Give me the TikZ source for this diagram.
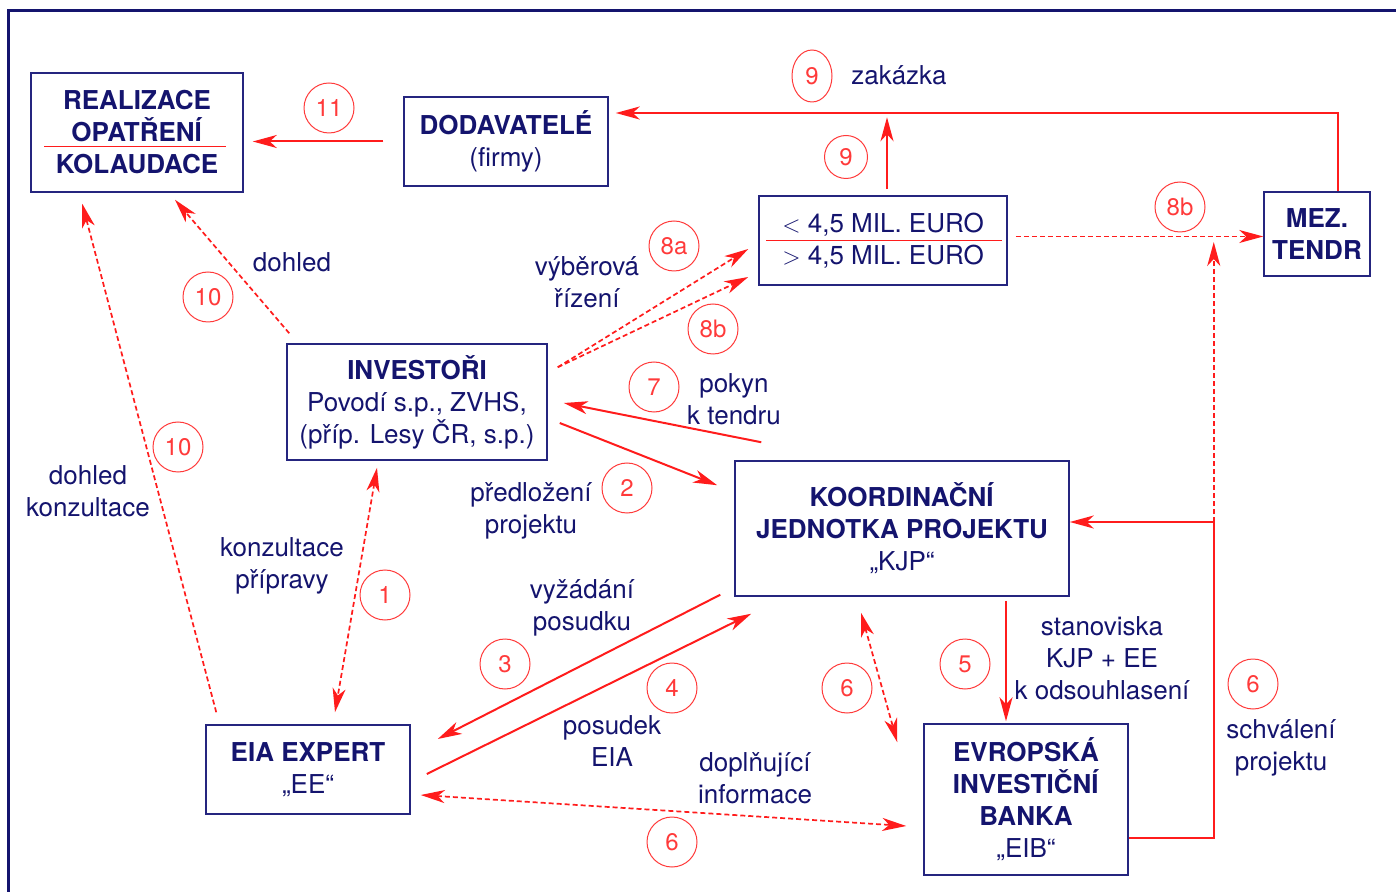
\documentclass[tikz,border=0pt]{standalone}
\usepackage{fontspec}
\setmainfont{TeX Gyre Heros}
\usetikzlibrary{
  positioning,
  arrows.meta,
  calc,
  shapes.geometric
}
\definecolor{navy}{HTML}{14146E}
\definecolor{boxline}{HTML}{25257F}
\definecolor{flow}{HTML}{FF1C1C}
\definecolor{stepnum}{HTML}{FF3A3A}

\begin{document}
\begin{tikzpicture}[
  x=0.5pt, y=-0.5pt,
  >={Stealth[length=12pt,width=6.5pt,inset=3.5pt]},
  box/.style={draw=boxline, line width=0.75pt, align=center, text=navy, inner sep=2pt,
              font=\fontsize{13}{16}\selectfont},
  lbl/.style={align=center, text=navy, inner sep=0pt, font=\fontsize{13}{16}\selectfont},
  num/.style={circle, draw=stepnum, line width=0.5pt, minimum size=25pt, inner sep=0pt,
              text=stepnum, font=\fontsize{12}{14}\selectfont},
  flowarr/.style={draw=flow, line width=1pt, ->},
  dashflow/.style={flowarr, line width=0.85pt, dash pattern=on 2.5pt off 1.5pt},
  split/.style={draw=flow, line width=0.6pt},
]
  \useasboundingbox (0,0) rectangle (1396,892);
  \draw[navy, line width=1.5pt] (8,11) rectangle (1430,930);

  \node[box, minimum width=106pt, minimum height=59.5pt] (real) at (137,132.5)
    {\textbf{REALIZACE}\\\textbf{OPATŘENÍ}\\\textbf{KOLAUDACE}};
  \node[box, minimum width=102pt, minimum height=44.5pt] (dod) at (506,141.5)
    {\textbf{DODAVATELÉ}\\(firmy)};
  \node[box, minimum width=124pt, minimum height=44.5pt] (price) at (883,240.5)
    {$<$ 4,5 MIL. EURO\\$>$ 4,5 MIL. EURO};
  \node[box, minimum width=53pt, minimum height=42pt] (mez) at (1317,234)
    {\textbf{MEZ.}\\\textbf{TENDR}};
  \node[box, minimum width=130pt, minimum height=58pt] (inv) at (417,402)
    {\textbf{INVESTOŘI}\\Povodí s.p., ZVHS,\\(příp. Lesy ČR, s.p.)};
  \node[box, minimum width=167pt, minimum height=67.5pt] (kjp) at (902,528.5)
    {\textbf{KOORDINAČNÍ}\\\textbf{JEDNOTKA PROJEKTU}\\„KJP“};
  \node[box, minimum width=102pt, minimum height=44.5pt] (eia) at (308,769.5)
    {\textbf{EIA EXPERT}\\„EE“};
  \node[box, minimum width=102pt, minimum height=75.5pt] (eib) at (1026,799.5)
    {\textbf{EVROPSKÁ}\\\textbf{INVESTIČNÍ}\\\textbf{BANKA}\\„EIB“};

  \draw[split] ($(real.center)+(-93,14)$) -- ($(real.center)+(89,14)$);
  \draw[split] ($(price.center)+(-117,0)$) -- ($(price.center)+(119,0)$);

  \draw[flowarr] ($(dod.west)+(-20,0)$) -- ($(real.east |- dod.west)+(9,0)$);
  \draw[flowarr] ($(mez.north)+(21,0)$) |- ($(dod.east)+(7,-28.5)$);
  \draw[flowarr] ($(price.north)+(4,-6)$) -- ($(price.north)+(4,-78)$);
  \draw[dashflow] ($(price.east)+(8,-4)$) -- ($(price.east -| mez.west)+(0,-4)$);
  \coordinate (jn) at ($(kjp.east)+(144,-6.5)$);
  \draw[dashflow] (jn) -- ($(jn |- mez.west)+(0,8)$);
  \draw[flowarr] ($(eib.east)+(0,38.5)$) -| (jn) -- (jn -| kjp.east);
  \draw[flowarr] ($(kjp.south)+(104,4)$) -- ($(eib.north)+(-20,-2)$);
  \draw[dashflow, <->] ($(kjp.south)+(-41,16)$) -- ($(eib.north west)+(-26,19)$);
  \draw[dashflow, <->] ($(eia.east)+(10,25.5)$) -- ($(eib.west)+(-17,26.5)$);
  \draw[flowarr] ($(kjp.south west)+(-14,-2)$) -- ($(eia.east)+(27,-30.5)$);
  \draw[flowarr] ($(eia.east)+(16,4.5)$) -- ($(kjp.south west)+(17,17)$);
  \draw[dashflow, <->] ($(inv.south)+(-40,7)$) -- ($(eia.north)+(27,-12)$);
  \draw[flowarr] ($(inv.east)+(12,21)$) -- ($(kjp.north west)+(-17,25)$);
  \draw[flowarr] ($(kjp.north west)+(27,-18)$) -- ($(inv.east)+(16,1)$);
  \draw[dashflow] ($(inv.north east)+(10,24)$) -- ($(price.west)+(-10,8.5)$);
  \draw[dashflow] ($(inv.north east)+(10,24)$) -- ($(price.west)+(-10,36.5)$);
  \draw[dashflow] ($(inv.north west)+(3,-10)$) -- ($(real.south)+(38,7)$);
  \draw[dashflow] ($(eia.north west)+(11,-12)$) -- ($(real.south west)+(52,11)$);

  \node[num] (n11) at (329,108) {11};
  \node[num, ellipse, minimum width=20pt, minimum height=26pt] (n9top) at (812,76) {9};
  \node[num, minimum size=21.5pt] (n9up) at (846,157) {9};
  \node[num] (n8btop) at (1180,207) {8b};
  \node[num] (n8a) at (674,246) {8a};
  \node[num] (n8b) at (713,329) {8b};
  \node[num] (n7) at (654,387) {7};
  \node[num] (n2) at (627,488) {2};
  \node[num] (n10up) at (208,297) {10};
  \node[num] (n10low) at (178,447) {10};
  \node[num] (n1) at (385,595) {1};
  \node[num] (n3) at (505,664) {3};
  \node[num] (n4) at (672,688) {4};
  \node[num] (n6mid) at (847,688) {6};
  \node[num] (n5) at (965,664) {5};
  \node[num] (n6right) at (1253,684) {6};
  \node[num] (n6low) at (672,842) {6};

  \node[lbl] (lzak) at (899,75) {zakázka};
  \node[lbl] (ldoh) at (292,262) {dohled};
  \node[lbl] (lvyb) at (587,282) {výběrová\\řízení};
  \node[lbl] (lpok) at (734,399) {pokyn\\k tendru};
  \node[lbl] (lpred) at (531,511) {předložení\\projektu};
  \node[lbl] (ldohk) at (88,491) {dohled\\konzultace};
  \node[lbl] (lkonz) at (282,566) {konzultace\\přípravy};
  \node[lbl] (lvyz) at (582,608) {vyžádání\\posudku};
  \node[lbl] (lpos) at (612,741) {posudek\\EIA};
  \node[lbl] (ldopl) at (755,778) {doplňující\\informace};
  \node[lbl] (lstan) at (1102,658) {stanoviska\\KJP + EE\\k odsouhlasení};
  \node[lbl] (lschv) at (1281,748) {schválení\\projektu};
\end{tikzpicture}
\end{document}
